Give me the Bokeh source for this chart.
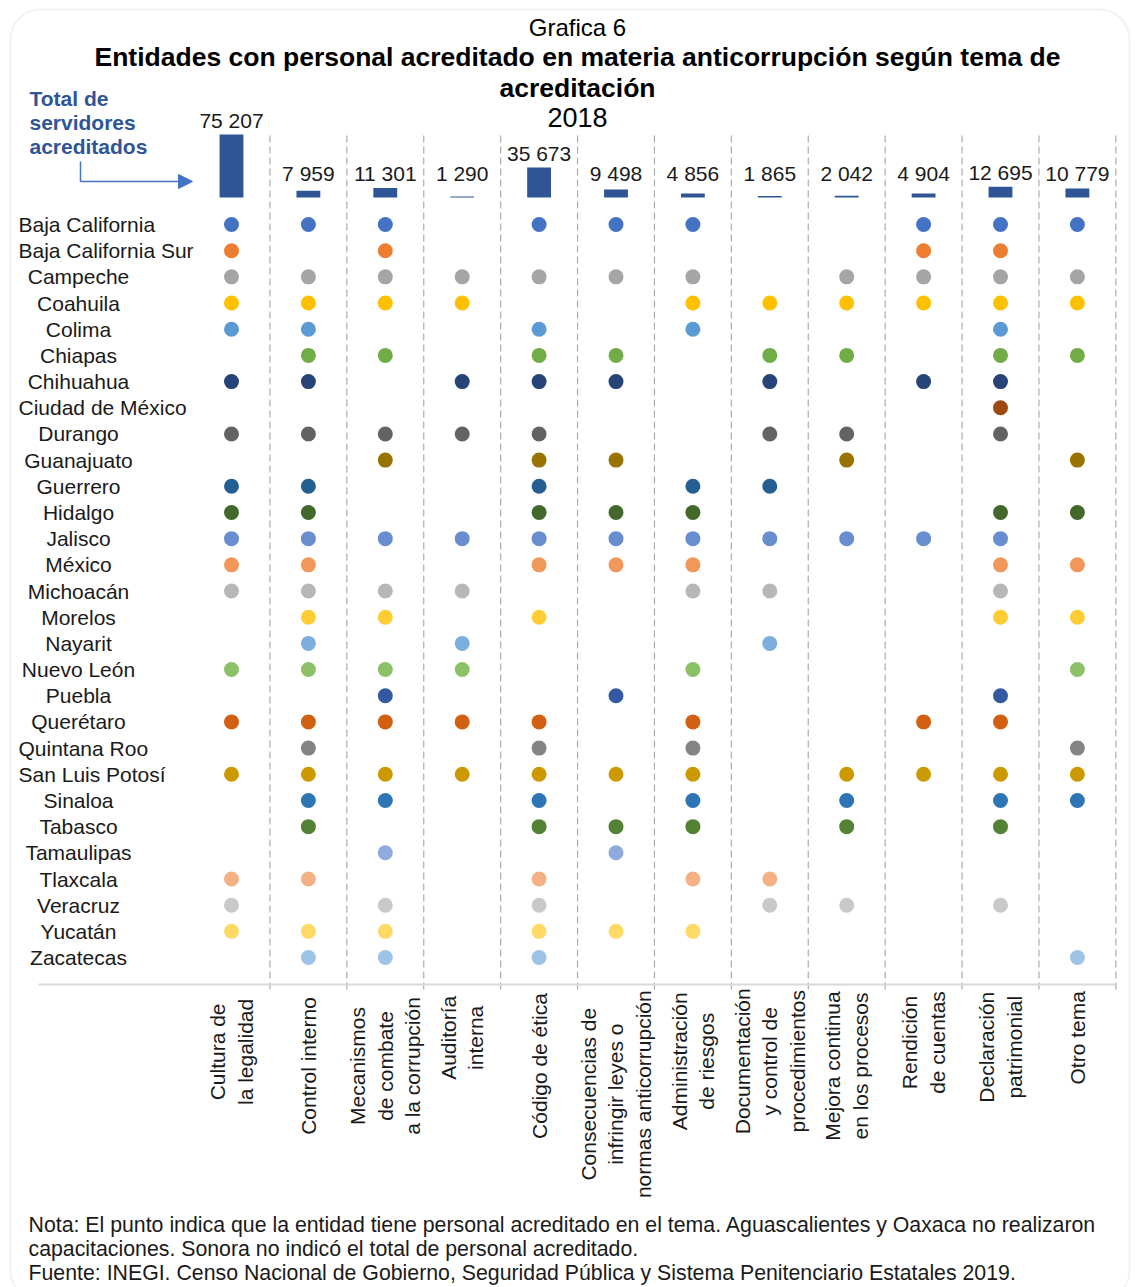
import math
from bokeh.plotting import figure
from bokeh.models import Range1d, Label, Arrow, NormalHead, BoxAnnotation
from bokeh.core.properties import value
from bokeh.embed import file_html
from bokeh.resources import INLINE

# ---------------- data ----------------
topics = [
    "Cultura de\nla legalidad",
    "Control interno",
    "Mecanismos\nde combate\na la corrupción",
    "Auditoría\ninterna",
    "Código de ética",
    "Consecuencias de\ninfringir leyes o\nnormas anticorrupción",
    "Administración\nde riesgos",
    "Documentación\ny control de\nprocedimientos",
    "Mejora continua\nen los procesos",
    "Rendición\nde cuentas",
    "Declaración\npatrimonial",
    "Otro tema",
]
totals = [75207, 7959, 11301, 1290, 35673, 9498, 4856, 1865, 2042, 4904, 12695, 10779]

states = [
    "Baja California", "Baja California Sur", "Campeche", "Coahuila", "Colima",
    "Chiapas", "Chihuahua", "Ciudad de México", "Durango", "Guanajuato",
    "Guerrero", "Hidalgo", "Jalisco", "México", "Michoacán", "Morelos",
    "Nayarit", "Nuevo León", "Puebla", "Querétaro", "Quintana Roo",
    "San Luis Potosí", "Sinaloa", "Tabasco", "Tamaulipas", "Tlaxcala",
    "Veracruz", "Yucatán", "Zacatecas",
]
state_colors = [
    "#4472C4", "#ED7D31", "#A5A5A5", "#FFC000", "#5B9BD5",
    "#70AD47", "#264478", "#9E480E", "#636363", "#997300",
    "#255E91", "#43682B", "#698ED0", "#F1975A", "#B7B7B7", "#FFCD33",
    "#7CAFDD", "#8CC168", "#335AA1", "#D26012", "#848484",
    "#CC9A00", "#2E75B6", "#548235", "#8FAADC", "#F4B183",
    "#C9C9C9", "#FFD966", "#9DC3E6",
]
# topic indices (0-11) in which each state has accredited personnel
topics_by_state = [
    [0, 1, 2, 4, 5, 6, 9, 10, 11],        # Baja California
    [0, 2, 9, 10],                        # Baja California Sur
    [0, 1, 2, 3, 4, 5, 6, 8, 9, 10, 11],  # Campeche
    [0, 1, 2, 3, 6, 7, 8, 9, 10, 11],     # Coahuila
    [0, 1, 4, 6, 10],                     # Colima
    [1, 2, 4, 5, 7, 8, 10, 11],           # Chiapas
    [0, 1, 3, 4, 5, 7, 9, 10],            # Chihuahua
    [10],                                 # Ciudad de México
    [0, 1, 2, 3, 4, 7, 8, 10],            # Durango
    [2, 4, 5, 8, 11],                     # Guanajuato
    [0, 1, 4, 6, 7],                      # Guerrero
    [0, 1, 4, 5, 6, 10, 11],              # Hidalgo
    [0, 1, 2, 3, 4, 5, 6, 7, 8, 9, 10],   # Jalisco
    [0, 1, 4, 5, 6, 10, 11],              # México
    [0, 1, 2, 3, 6, 7, 10],               # Michoacán
    [1, 2, 4, 10, 11],                    # Morelos
    [1, 3, 7],                            # Nayarit
    [0, 1, 2, 3, 6, 11],                  # Nuevo León
    [2, 5, 10],                           # Puebla
    [0, 1, 2, 3, 4, 6, 9, 10],            # Querétaro
    [1, 4, 6, 11],                        # Quintana Roo
    [0, 1, 2, 3, 4, 5, 6, 8, 9, 10, 11],  # San Luis Potosí
    [1, 2, 4, 6, 8, 10, 11],              # Sinaloa
    [1, 4, 5, 6, 8, 10],                  # Tabasco
    [2, 5],                               # Tamaulipas
    [0, 1, 4, 6, 7],                      # Tlaxcala
    [0, 2, 4, 7, 8, 10],                  # Veracruz
    [0, 1, 2, 4, 5, 6],                   # Yucatán
    [1, 2, 4, 11],                        # Zacatecas
]

title_lines = ["Grafica 6",
               "Entidades con personal acreditado en materia anticorrupción según tema de",
               "acreditación", "2018"]
side_note = "Total de\nservidores\nacreditados"
footnotes = [
    "Nota: El punto indica que la entidad tiene personal acreditado en el tema. Aguascalientes y Oaxaca no realizaron",
    "capacitaciones. Sonora no indicó el total de personal acreditado.",
    "Fuente: INEGI. Censo Nacional de Gobierno, Seguridad Pública y Sistema Penitenciario Estatales 2019.",
]

# ---------------- layout helpers ----------------
FONT = "Liberation Sans"
W, H = 1135, 1287
X0, XU = 231.0, 76.9     # px of column 0, px per column
Y0, YU = 224.0, 26.18    # px of row 0, px per row


def xd(ix):
    return (ix - X0) / XU


def yd(iy):
    return (iy - Y0) / YU


# bar scale: value 0 at y 197, max value 63 px tall
BAR_BASE, BAR_PX = 197.0, 63.0
ppv = BAR_PX / max(totals)

p = figure(width=W, height=H,
           x_range=Range1d(xd(0), xd(W)),
           y_range=Range1d(yd(H), yd(0)),
           output_backend="svg", toolbar_location=None,
           x_axis_location=None, y_axis_location=None,
           min_border=0, outline_line_color=None,
           background_fill_color="white", border_fill_color="white")
p.grid.visible = False
p.extra_y_ranges = {"bars": Range1d(-(H - BAR_BASE) / ppv, BAR_BASE / ppv)}

# rounded frame
p.add_layout(BoxAnnotation(left=xd(10), right=xd(1129), top=yd(9), bottom=yd(1300),
                           fill_color=None, line_color="#D4D4D4", line_width=2,
                           border_radius=30))

# dashed column separators and bottom line
n = len(topics)
p.segment(x0=[i + 0.5 for i in range(n)], x1=[i + 0.5 for i in range(n)],
          y0=[yd(135)] * n, y1=[yd(990)] * n,
          line_color="#ABABAB", line_width=1.2, line_dash="7 4")
p.segment(x0=[xd(38)], x1=[xd(1117)], y0=[yd(984)], y1=[yd(984)],
          line_color="#D9D9D9", line_width=2)

# total bars
cols = list(range(n))
p.vbar(x=cols, top=totals, bottom=0, width=0.31, y_range_name="bars",
       fill_color="#2F5597", line_color=None)
gap = 14 / ppv
label_y = [max(v, 12000) + gap for v in totals]
p.text(x=cols, y=label_y, y_range_name="bars",
       text=[f"{v:,}".replace(",", " ") for v in totals],
       text_align="center", text_baseline="middle",
       text_font=value(FONT), text_font_size="21px", text_color="#1A1A1A")

# dots
xs, ys, cs = [], [], []
for j, (tl, c) in enumerate(zip(topics_by_state, state_colors)):
    for t in tl:
        xs.append(t)
        ys.append(j)
        cs.append(c)
p.scatter(x=xs, y=ys, size=15, marker="circle", fill_color=cs, line_color=None)

# row labels (centred unless too long, then left aligned)
for j, s in enumerate(states):
    est = len(s) * 9.3
    if est > 110:
        p.add_layout(Label(x=xd(18), y=j, text=s, text_align="left", text_baseline="middle",
                           text_font=FONT, text_font_size="21px", text_color="#1A1A1A"))
    else:
        p.add_layout(Label(x=xd(78), y=j, text=s, text_align="center", text_baseline="middle",
                           text_font=FONT, text_font_size="21px", text_color="#1A1A1A"))

# rotated topic labels
for i, t in enumerate(topics):
    longest = max(len(line) for line in t.split("\n"))
    cy = 995 + 0.5 * 9.4 * longest
    p.add_layout(Label(x=i, y=yd(cy), text=t, angle=math.pi / 2,
                       text_align="center", text_baseline="middle",
                       text_font=FONT, text_font_size="21px", text_color="#1A1A1A",
                       text_line_height=1.2))

# titles
p.add_layout(Label(x=xd(577), y=yd(27), text=title_lines[0], text_align="center",
                   text_baseline="middle", text_font=FONT, text_font_size="24px",
                   text_color="#000000"))
p.add_layout(Label(x=xd(577), y=yd(56), text=title_lines[1], text_align="center",
                   text_baseline="middle", text_font=FONT, text_font_size="26.5px",
                   text_font_style="bold", text_color="#000000"))
p.add_layout(Label(x=xd(577), y=yd(87), text=title_lines[2], text_align="center",
                   text_baseline="middle", text_font=FONT, text_font_size="26.5px",
                   text_font_style="bold", text_color="#000000"))
p.add_layout(Label(x=xd(577), y=yd(117), text=title_lines[3], text_align="center",
                   text_baseline="middle", text_font=FONT, text_font_size="27px",
                   text_color="#000000"))

# side note + arrow
for k, line in enumerate(side_note.split("\n")):
    p.add_layout(Label(x=xd(29), y=yd(98 + 24 * k), text=line, text_align="left",
                       text_baseline="middle", text_font=FONT, text_font_size="21px",
                       text_font_style="bold", text_color="#2F5597"))
p.segment(x0=[xd(80)], x1=[xd(80)], y0=[yd(161)], y1=[yd(181)],
          line_color="#4472C4", line_width=1.5)
p.add_layout(Arrow(x_start=xd(80), y_start=yd(181), x_end=xd(192), y_end=yd(181),
                   line_color="#4472C4", line_width=1.5,
                   end=NormalHead(size=14, fill_color="#4472C4", line_color="#4472C4")))

# footnotes
for k, line in enumerate(footnotes):
    p.add_layout(Label(x=xd(28), y=yd(1224 + 24 * k), text=line, text_align="left",
                       text_baseline="middle", text_font=FONT, text_font_size="21.3px",
                       text_color="#1A1A1A"))

open("out.html", "w").write(file_html(p, INLINE))
